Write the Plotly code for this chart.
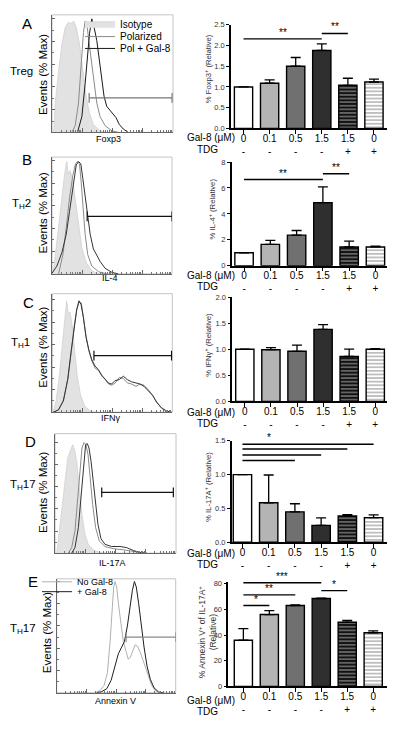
import math
import plotly.graph_objects as go

W, H = 400, 731
FONT = "Liberation Sans, Arial, sans-serif"

# ---------------- histogram data ----------------
# x: position along a 4-decade log fluorescence axis (0-100); y: events, % of max
A_iso_x = [1.4, 2.7, 5.5, 8.2, 11, 13.7, 15.6, 17.8, 20, 22.7, 25.5, 28.2, 31, 34.2, 39.7, 45.2]
A_iso_y = [0, 26, 55, 78, 93, 97, 96, 98, 93, 78, 55, 32, 17, 7, 1.5, 0]
A_pol_x = [16.4, 19.2, 21.9, 24.1, 26, 27.4, 28.8, 30.4, 32.6, 34.8, 37, 39.7, 43.8, 49.3, 54.8]
A_pol_y = [0, 6, 26, 61, 88, 98, 96, 81, 61, 41, 26, 14, 6, 1.5, 0]
A_gal_x = [21.1, 24.7, 27.4, 29.3, 31, 32, 32.9, 33.7, 35.1, 37, 39.2, 41.1, 43, 45.2, 47.4, 50.1, 52.9, 55.6, 58.9, 63]
A_gal_y = [0, 14, 43, 70, 87, 94, 100, 96, 91, 81, 64, 46, 32, 23, 20, 17, 13, 7, 3, 0]
A_gate = [30.7, 99.2, 30.4]

B_iso_x = [0.6, 1.9, 4.1, 6.9, 9.7, 11.6, 12.4, 13.5, 15.2, 17.1, 19.3, 22.1, 24.9, 28.5, 33.1, 38.7]
B_iso_y = [0.6, 9, 29, 58, 81, 96, 99, 88, 91, 84, 67, 41, 23, 10, 3, 0]
B_pol_x = [5.5, 9.1, 11.9, 14.6, 17.4, 19.6, 21.3, 22.9, 24.3, 25.7, 27.6, 29.8, 33.1, 38.7, 45.6]
B_pol_y = [0, 17, 41, 67, 87, 97, 99, 97, 81, 58, 35, 17, 7, 2, 0]
B_gal_x = [0, 4.1, 8.3, 11.9, 14.6, 17.4, 20.2, 22.1, 24, 25.7, 27.6, 29.6, 31.8, 34.5, 37.3, 40.1, 44.2, 49.7, 55.2]
B_gal_y = [0.6, 7, 19, 35, 55, 78, 96, 99, 97, 84, 67, 52, 35, 22, 16, 11, 5, 1.5, 0]
B_gate = [29.3, 100, 50.7]

C_iso_x = [0.8, 3.1, 5.8, 8.6, 10.6, 11.9, 13.3, 14.7, 16.4, 18.3, 20.8, 23.6, 27.2, 31.9, 36.9]
C_iso_y = [0.6, 10, 32, 61, 85, 99, 88, 89, 79, 56, 32, 15, 5, 1, 0]
C_gal_x = [0.8, 5, 9.2, 12.8, 15.6, 18.1, 20.3, 22.2, 23.9, 25.8, 28.1, 30.3, 32.8, 35.6, 38.3, 41.1, 43.9,
           46.7, 49.4, 52.2, 55.8, 59.2, 62.5, 66.1, 69.7, 73.1, 76.4, 80, 83.6, 86.9, 91.1, 95.3, 99.4]
C_gal_y = [0, 2, 10, 29, 53, 76, 91, 99, 96, 85, 67, 56, 47, 41, 38, 33, 29,
           26, 25, 28, 29, 32, 29, 27, 26, 25, 23, 19, 15, 9, 3.5, 1, 0]
C_pol_x = [0.8, 5.3, 9.4, 13.1, 15.8, 18.3, 20.6, 22.5, 24.2, 26.1, 28.3, 30.6, 33.1, 35.8, 38.6, 41.4, 44.2,
           46.9, 49.7, 52.5, 55.8, 59.2, 62.5, 66.1, 69.7, 73.1, 76.4, 80, 83.6, 86.9, 91.1, 95.3, 99.4]
C_pol_y = [0, 2, 11, 30, 54, 77, 92, 98, 97, 83, 66, 54, 45, 39, 37, 32, 29,
           25, 24, 26, 31, 30, 26, 25, 23, 25, 24, 20, 15, 9, 4, 1, 0]
C_gate = [34.7, 99.4, 50.3]

D_iso_x = [1.4, 2.8, 5.5, 8.3, 10.5, 12.4, 14.6, 16.3, 17.9, 20.1, 22.3, 24.8, 27.5, 31.7, 37.2, 42.7]
D_iso_y = [0, 14, 38, 68, 86, 92, 98, 93, 83, 59, 35, 17, 8, 3, 0.6, 0]
D_pol_x = [11, 13.8, 16.5, 18.7, 20.7, 22.3, 24, 25.6, 27.3, 28.9, 31.1, 33.6, 36.6, 41.3, 48.2, 56.5, 63.4, 68.9, 74.4]
D_pol_y = [0, 5, 20, 47, 77, 95, 100, 98, 89, 71, 44, 23, 11, 6, 4, 3, 2, 0.6, 0]
D_gal_x = [13.8, 16.5, 19.3, 21.8, 23.7, 25.3, 26.7, 28.1, 29.8, 31.7, 33.6, 35.5, 38, 41.3, 46.8, 53.7, 59.2, 64.7, 70.2, 75.8]
D_gal_y = [0, 5, 23, 56, 83, 98, 99, 95, 83, 65, 47, 26, 13, 8, 6, 6, 5, 2.4, 0.6, 0]
D_gate = [38.6, 97.8, 55]

E_no_x = [32.2, 36.4, 39.8, 42.6, 44.8, 46.5, 47.9, 49, 50.4, 52.1, 54.1, 56, 58.3, 60.2, 61.9, 63.9, 65.8,
          67.8, 70, 72.3, 74.5, 77, 79.8, 83.2, 86.8]
E_no_y = [0, 2, 6.5, 18, 45, 75, 95, 100, 95, 78, 60, 46, 37, 30, 32, 38, 43,
          42, 37, 30, 23, 14, 6.5, 1.5, 0]
E_gal_x = [33.6, 37.8, 42, 45.7, 49, 51.8, 54.6, 56.9, 59.4, 61.6, 63.6, 65.3, 66.9, 68.9, 71.1, 73.4, 75.9,
           78.7, 81.8, 85.7, 89.6]
E_gal_y = [0, 1, 3.5, 11, 24, 35, 41, 46, 60, 78, 92, 100, 95, 80, 60, 41, 24,
           12, 4.4, 0.6, 0]
E_gate = [58.3, 100, 50]

# ---------------- bar data ----------------
gal8_labels = ["0", "0.1", "0.5", "1.5", "1.5", "0"]
tdg_labels = ["-", "-", "-", "-", "+", "+"]

foxp3_mean = [1.0, 1.09, 1.5, 1.88, 1.04, 1.12]
foxp3_err = [0, 0.08, 0.21, 0.16, 0.17, 0.07]
il4_mean = [1.0, 1.65, 2.36, 4.87, 1.45, 1.45]
il4_err = [0, 0.31, 0.36, 1.22, 0.45, 0.07]
ifng_mean = [1.0, 0.99, 0.96, 1.38, 0.86, 1.0]
ifng_err = [0, 0.04, 0.12, 0.09, 0.14, 0.01]
il17_mean = [1.0, 0.585, 0.45, 0.25, 0.39, 0.365]
il17_err = [0, 0.41, 0.12, 0.11, 0.02, 0.04]
annexin_mean = [36, 56, 63, 68.5, 50, 41.8]
annexin_err = [9, 3, 0.5, 0.3, 1.5, 1.5]

# significance brackets: (from bar, to bar, level, stars, star position)
sig_A = [(0, 3, 2.16, "**", 1.5), (3, 4, 2.29, "**", 3.5)]
sig_B = [(0, 3, 6.65, "**", 1.5), (3, 4, 7.1, "**", 3.5)]
sig_C = []
sig_D = [(0, 5, 1.45, "*", 1.0), (0, 4, 1.38, "", None), (0, 3, 1.29, "", None), (0, 2, 1.21, "", None)]
sig_E = [(0, 3, 80.8, "***", 1.5), (0, 2, 71.3, "**", 1.0), (0, 1, 63, "*", 0.5), (3, 4, 74.6, "*", 3.5)]

# ---------------- styles / geometry ----------------
bar_fill = ["#ffffff", "#b4b4b4", "#707070", "#2f2f2f", "#111111", "#ffffff"]
bar_shape = ["", "", "", "", "-", "-"]
bar_fg = ["#000000", "#000000", "#000000", "#000000", "#9a9a9a", "#111111"]

hist_panels = [
    dict(letter="A", row="Treg", xt="Foxp3", x0=52, x1=173, top=11, bot=130, ymax=103.5,
         curves=[(A_iso_x, A_iso_y, "iso", "Isotype", "legend", 20),
                 (A_pol_x, A_pol_y, "#8a8a8a", "Polarized", "legend3", 33),
                 (A_gal_x, A_gal_y, "#1a1a1a", "Pol + Gal-8", "legend4", 45)],
         gate=A_gate, gcol="#777777",
         letter_xy=(27, 20), row_xy=(21, 68), ev_xy=(43, 72), xt_xy=(108, 137)),
    dict(letter="B", row="T<sub>H</sub>2", xt="IL-4", x0=52, x1=172, top=155, bot=273.3, ymax=102.9,
         curves=[(B_iso_x, B_iso_y, "iso", None, None, 0), (B_pol_x, B_pol_y, "#8a8a8a", None, None, 0),
                 (B_gal_x, B_gal_y, "#333333", None, None, 0)],
         gate=B_gate, gcol="#111111",
         letter_xy=(27, 157), row_xy=(21, 202), ev_xy=(43, 212), xt_xy=(110, 277)),
    dict(letter="C", row="T<sub>H</sub>1", xt="IFNγ", x0=52.3, x1=172.3, top=293.3, bot=413.3, ymax=105.3,
         curves=[(C_iso_x, C_iso_y, "iso", None, None, 0), (C_pol_x, C_pol_y, "#8a8a8a", None, None, 0),
                 (C_gal_x, C_gal_y, "#333333", None, None, 0)],
         gate=C_gate, gcol="#111111",
         letter_xy=(28, 302), row_xy=(20, 343), ev_xy=(43, 348), xt_xy=(110, 419)),
    dict(letter="D", row="T<sub>H</sub>17", xt="IL-17A", x0=55, x1=176, top=435, bot=556, ymax=108,
         curves=[(D_iso_x, D_iso_y, "iso", None, None, 0), (D_pol_x, D_pol_y, "#8a8a8a", None, None, 0),
                 (D_gal_x, D_gal_y, "#333333", None, None, 0)],
         gate=D_gate, gcol="#111111",
         letter_xy=(30, 443), row_xy=(23, 487), ev_xy=(43, 495), xt_xy=(112, 566)),
    dict(letter="E", row="T<sub>H</sub>17", xt="Annexin V", x0=56.7, x1=175.7, top=582, bot=697.3, ymax=102.4,
         curves=[(E_no_x, E_no_y, "#b0b0b0", "No Gal-8", "legend2", 585),
                 (E_gal_x, E_gal_y, "#1e1e1e", "+ Gal-8", "legend5", 595)],
         gate=E_gate, gcol="#888888",
         letter_xy=(33, 585), row_xy=(23, 633), ev_xy=(47, 637), xt_xy=(116, 706)),
]

bar_panels = [
    dict(mean=foxp3_mean, err=foxp3_err, sig=sig_A, ax=231, right=387, top=21, bot=126,
         yr=[0, 2.5], tv=[0, 0.5, 1.0, 1.5, 2.0, 2.5], fmt=".1f", xr=[-0.48, 5.5],
         title="% Foxp3<sup>+</sup> (Relative)", tsize=7.7, t_xy=(208, 66), rows=(135, 147)),
    dict(mean=il4_mean, err=il4_err, sig=sig_B, ax=231.7, right=387, top=160, bot=265,
         yr=[0, 8], tv=[0, 2, 4, 6, 8], fmt="d", xr=[-0.47, 5.44],
         title="% IL-4<sup>+</sup> (Relative)", tsize=7.7, t_xy=(212, 208), rows=(275, 286)),
    dict(mean=ifng_mean, err=ifng_err, sig=sig_C, ax=232.3, right=387, top=296.7, bot=402.3,
         yr=[0, 2], tv=[0, 0.5, 1.0, 1.5, 2.0], fmt=".1f", xr=[-0.48, 5.45],
         title="% IFNγ<sup>+</sup> (Relative)", tsize=7.7, t_xy=(208, 345), rows=(414, 425)),
    dict(mean=il17_mean, err=il17_err, sig=sig_D, ax=231.7, right=386.7, top=442.3, bot=545,
         yr=[0, 1.5], tv=[0, 0.5, 1.0, 1.5], fmt=".1f", xr=[-0.41, 5.5],
         title="% IL-17A<sup>+</sup> (Relative)", tsize=7.7, t_xy=(208, 489), rows=(556, 567)),
    dict(mean=annexin_mean, err=annexin_err, sig=sig_E, ax=228.3, right=386.7, top=585, bot=691,
         yr=[0, 81.5], tv=[0, 20, 40, 60, 80], fmt="d", xr=[-0.58, 5.52],
         title="% Annexin V<sup>+</sup> of IL-17A<sup>+</sup><br>(Relative)", tsize=8.5, t_xy=(208, 636),
         rows=(705, 716)),
]


def px_x(x):
    return x / W


def px_y(y):
    return 1 - y / H


def ax_ids(n):
    return ("x", "y") if n == 1 else (f"x{n}", f"y{n}")


def ax_key(n):
    return "" if n == 1 else str(n)


fig = go.Figure()
annotations = []
shapes = []
legends = {}


def text(x, y, s, size, xanchor="center", yanchor="middle", angle=0, color="#000000"):
    annotations.append(dict(x=px_x(x), y=px_y(y), xref="paper", yref="paper", text=s,
                            showarrow=False, xanchor=xanchor, yanchor=yanchor, textangle=angle,
                            font=dict(size=size, family=FONT, color=color)))


log_minor = [25 * (k + math.log10(m)) for k in range(4) for m in range(2, 10)]

# ---------------- histograms ----------------
for i, p in enumerate(hist_panels):
    n = i + 1
    xa, ya = ax_ids(n)
    for cx, cy, col, name, leg, ly in p["curves"]:
        show = name is not None
        kw = dict(legend=leg) if show else {}
        if show:
            lx = 80 if p["letter"] == "A" else 37
            legends[leg] = dict(x=px_x(lx), y=px_y(ly), xanchor="left", yanchor="middle",
                                bgcolor="rgba(0,0,0,0)", itemwidth=30,
                                font=dict(size=10 if p["letter"] == "A" else 9, family=FONT))
        if col == "iso":
            fig.add_trace(go.Scatter(x=cx, y=cy, xaxis=xa, yaxis=ya, mode="lines", fill="tozeroy",
                                     fillcolor="#e2e2e2", line=dict(color="#c8c8c8", width=0.6),
                                     name=name or "Isotype", showlegend=show, **kw))
        else:
            fig.add_trace(go.Scatter(x=cx, y=cy, xaxis=xa, yaxis=ya, mode="lines",
                                     line=dict(color=col, width=1), name=name or "",
                                     showlegend=show, **kw))
    g0, g1, gy = p["gate"]
    fig.add_trace(go.Scatter(x=[g0, g1], y=[gy, gy], xaxis=xa, yaxis=ya, mode="lines+markers",
                             line=dict(color=p["gcol"], width=1.2),
                             marker=dict(symbol="line-ns", size=7, line=dict(color=p["gcol"], width=1.2)),
                             showlegend=False, hoverinfo="skip"))
    key = ax_key(n)
    fig.layout[f"xaxis{key}"] = dict(domain=[px_x(p["x0"]), px_x(p["x1"])], range=[0, 100],
                                     anchor=ya, showline=True, linecolor="#666666", linewidth=1,
                                     ticks="inside", tickvals=[0, 25, 50, 75, 100], ticklen=4,
                                     tickcolor="#666666", showticklabels=False, showgrid=False,
                                     zeroline=False,
                                     minor=dict(tickmode="array", tickvals=log_minor, ticklen=2,
                                                ticks="inside", tickcolor="#777777", showgrid=False))
    fig.layout[f"yaxis{key}"] = dict(domain=[px_y(p["bot"]), px_y(p["top"])], range=[0, p["ymax"]],
                                     anchor=xa, showline=True, linecolor="#666666", linewidth=1,
                                     ticks="inside", tickvals=[0, 20, 40, 60, 80, 100], ticklen=3,
                                     tickcolor="#666666", showticklabels=False, showgrid=False,
                                     zeroline=False,
                                     minor=dict(dtick=10, ticklen=2, ticks="inside",
                                                tickcolor="#777777", showgrid=False))
    shapes.append(dict(type="rect", xref=f"{xa} domain", yref=f"{ya} domain", x0=0, x1=1, y0=0, y1=1,
                       line=dict(color="#c4c4c4", width=1), layer="below"))
    text(*p["letter_xy"], p["letter"], 15)
    text(*p["row_xy"], p["row"], 11.5)
    text(*p["ev_xy"], "Events (% Max)", 11.5, angle=-90)
    text(*p["xt_xy"], p["xt"], 9)

# ---------------- bar charts ----------------
for j, b in enumerate(bar_panels):
    n = j + 6
    xa, ya = ax_ids(n)
    xs = list(range(len(b["mean"])))
    fig.add_trace(go.Bar(x=xs, y=b["mean"], xaxis=xa, yaxis=ya, width=0.7,
                         marker=dict(color=bar_fill, line=dict(color="#000000", width=1.4),
                                     pattern=dict(shape=bar_shape, fgcolor=bar_fg, bgcolor=bar_fill,
                                                  size=3.6, solidity=0.35)),
                         error_y=dict(type="data", array=b["err"], arrayminus=[0] * len(xs),
                                      symmetric=False, color="#000000", thickness=1.3, width=5),
                         showlegend=False, hoverinfo="skip"))
    key = ax_key(n)
    fig.layout[f"xaxis{key}"] = dict(domain=[px_x(b["ax"]), px_x(b["right"])], range=b["xr"], anchor=ya,
                                     showline=True, linecolor="#000000", linewidth=1.5, ticks="outside",
                                     tickvals=xs, ticklen=4, tickwidth=1.3, tickcolor="#000000",
                                     ticktext=[f"{g}<br>{t}" for g, t in zip(gal8_labels, tdg_labels)],
                                     tickfont=dict(size=10, family=FONT, color="#000000"),
                                     ticklabelstandoff=-4,
                                     showgrid=False, zeroline=False)
    fig.layout[f"yaxis{key}"] = dict(domain=[px_y(b["bot"]), px_y(b["top"])], range=b["yr"], anchor=xa,
                                     showline=True, linecolor="#000000", linewidth=1.5, ticks="outside",
                                     tickvals=b["tv"], tickformat=b["fmt"], ticklen=3, tickwidth=1.3,
                                     tickcolor="#000000", showgrid=False, zeroline=False,
                                     tickfont=dict(size=7.5, family=FONT, color="#333333"))
    for (a, c, lvl, stars, sx) in b["sig"]:
        shapes.append(dict(type="line", xref=xa, yref=ya, x0=a, x1=c, y0=lvl, y1=lvl,
                           line=dict(color="#000000", width=1.4)))
        if stars:
            annotations.append(dict(x=sx, y=lvl, xref=xa, yref=ya, text=stars, showarrow=False,
                                    xanchor="center", yanchor="bottom", yshift=-1,
                                    font=dict(size=10, family=FONT, color="#000000")))
    r1, r2 = b["rows"]
    text(237, r1, "Gal-8 (μM)", 10, xanchor="right")
    text(195, r2, "TDG", 10, xanchor="left")
    text(*b["t_xy"], b["title"], b["tsize"], angle=-90, color="#333333")

fig.update_layout(
    width=W, height=H, margin=dict(l=0, r=0, t=0, b=0),
    paper_bgcolor="white", plot_bgcolor="rgba(0,0,0,0)",
    font=dict(family=FONT, color="#000000"),
    annotations=annotations, shapes=shapes, bargap=0.3,
    **legends,
)

fig.write_html("out.html", include_plotlyjs=True, full_html=True,
               config={"displayModeBar": False},
               post_script="document.body.style.margin='0px';")
